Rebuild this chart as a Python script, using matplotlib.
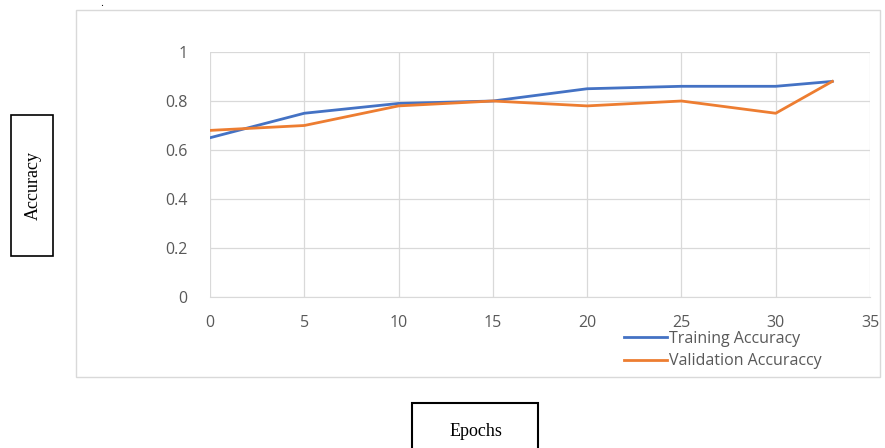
import matplotlib.pyplot as plt
from matplotlib.patches import Rectangle

# values
epochs = [0, 5, 10, 15, 20, 25, 30, 33]
train_acc = [0.65, 0.75, 0.79, 0.80, 0.85, 0.86, 0.86, 0.88]
val_acc = [0.68, 0.70, 0.78, 0.80, 0.78, 0.80, 0.75, 0.88]
x_ticks = [0, 5, 10, 15, 20, 25, 30, 35]
y_ticks = [0, 0.2, 0.4, 0.6, 0.8, 1]
y_tick_labels = ['0', '0.2', '0.4', '0.6', '0.8', '1']

plt.rcParams['font.family'] = ['Open Sans', 'DejaVu Sans']
grey_text = '#595959'
grid_col = '#D9D9D9'

fig = plt.figure(figsize=(8.85, 4.48), dpi=100)
W, H = 885, 448

def fx(px):
    return px / W

def fy(py):
    return 1 - py / H

# outer chart frame (Excel chart area)
fig.patches.append(Rectangle((fx(76), fy(377)), fx(880) - fx(76), fy(10) - fy(377),
                             transform=fig.transFigure, fill=False,
                             edgecolor='#D9D9D9', linewidth=1.0))

ax = fig.add_axes([fx(210), fy(297), fx(870) - fx(210), fy(52) - fy(297)])
ax.plot(epochs, train_acc, color='#4472C4', linewidth=2.0, label='Training Accuracy')
ax.plot(epochs, val_acc, color='#ED7D31', linewidth=2.0, label='Validation Accuracy')

ax.set_xlim(0, 35)
ax.set_ylim(0, 1)
ax.set_xticks(x_ticks)
ax.set_yticks(y_ticks)
ax.set_yticklabels(y_tick_labels)
ax.grid(True, color=grid_col, linewidth=0.9)
ax.set_axisbelow(True)
for side in ['top', 'right', 'left']:
    ax.spines[side].set_visible(False)
ax.spines['bottom'].set_color(grid_col)
ax.tick_params(length=0, colors=grey_text, labelsize=11.5)
ax.tick_params(axis='x', pad=13)
ax.tick_params(axis='y', pad=16)

leg = ax.legend(loc='upper left', bbox_to_anchor=(fx(624), fy(331)),
                bbox_transform=fig.transFigure, frameon=False, fontsize=11.5,
                handlelength=2.7, handletextpad=0.1, labelspacing=0.4,
                borderaxespad=0, borderpad=0)
leg.get_texts()[1].set_text('Validation Accuraccy')
for t in leg.get_texts():
    t.set_color(grey_text)

# boxed axis labels
fig.patches.append(Rectangle((fx(11), fy(256)), fx(53) - fx(11), fy(115) - fy(256),
                             transform=fig.transFigure, fill=False,
                             edgecolor='black', linewidth=1.2))
fig.text(fx(33), fy(186), 'Accuracy', rotation=90, ha='center', va='center',
         family='Liberation Serif', fontsize=13)

fig.patches.append(Rectangle((fx(412), fy(460)), fx(538) - fx(412), fy(403) - fy(460),
                             transform=fig.transFigure, fill=False,
                             edgecolor='black', linewidth=1.5, clip_on=False))
fig.text(fx(476), fy(431), 'Epochs', ha='center', va='center',
         family='Liberation Serif', fontsize=13)

fig.text(fx(102), fy(4), '.', ha='center', va='center', fontsize=8)

plt.savefig('out.png', dpi=100)
plt.close()
